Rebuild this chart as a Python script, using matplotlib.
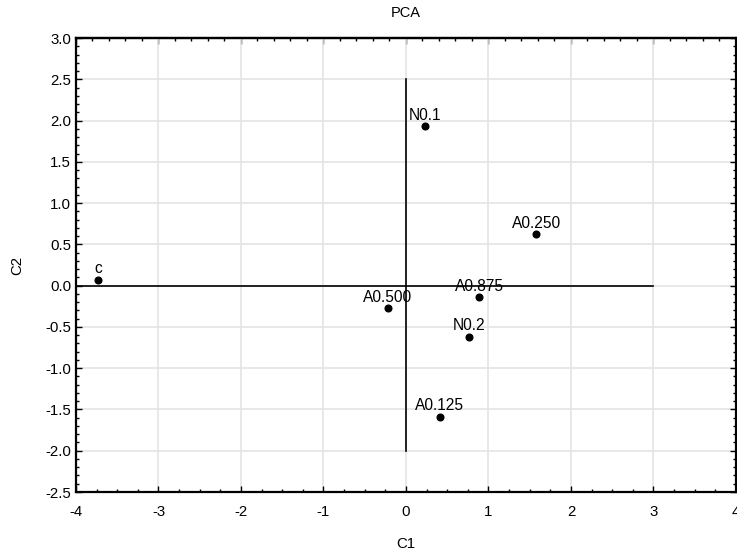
import matplotlib
matplotlib.use('Agg')
import matplotlib.pyplot as plt
from matplotlib.ticker import MultipleLocator, NullFormatter

plt.rcParams['font.family'] = ['Liberation Sans', 'DejaVu Sans']
plt.rcParams['axes.unicode_minus'] = False

labels = ['c', 'N0.1', 'A0.250', 'A0.875', 'A0.500', 'N0.2', 'A0.125']
c1 = [-3.73, 0.235, 1.58, 0.885, -0.22, 0.77, 0.41]
c2 = [0.07, 1.93, 0.625, -0.14, -0.275, -0.62, -1.59]

# reference axes drawn across the plot
hline_x = [-4, 3]
vline_y = [-2, 2.5]

fig = plt.figure(figsize=(7.37, 5.55), dpi=100)
ax = fig.add_axes([0.1031, 0.1135, 0.8955, 0.818])

ax.plot(hline_x, [0, 0], color='black', lw=1.2, zorder=2)
ax.plot([0, 0], vline_y, color='black', lw=1.2, zorder=2)

ax.plot(c1, c2, 'o', color='black', markersize=4.8, zorder=3)
for lab, x, y in zip(labels, c1, c2):
    ax.annotate(lab, (x, y), xytext=(0, 2.5), textcoords='offset points',
                ha='center', va='bottom', fontsize=11.2)

ax.set_xlim(-4, 4)
ax.set_ylim(-2.5, 3.0)
ax.xaxis.set_major_locator(MultipleLocator(1))
ax.xaxis.set_minor_locator(MultipleLocator(0.25))
ax.yaxis.set_major_locator(MultipleLocator(0.5))
ax.yaxis.set_minor_locator(MultipleLocator(0.1))
ax.set_yticklabels([f'{v:.1f}' for v in ax.get_yticks()])

ax.grid(True, which='major', color='#e4e4e4', lw=1.2, zorder=0)
ax.set_axisbelow(True)
ax.tick_params(which='both', direction='in', right=True,
               labelsize=10.8, colors='black')
ax.tick_params(axis='x', which='major', pad=9)
ax.tick_params(which='major', length=4, width=1)
ax.tick_params(which='minor', length=2, width=1)
for s in ax.spines.values():
    s.set_linewidth(1.6)

# top edge has its own minor spacing
top = ax.secondary_xaxis('top')
top.xaxis.set_major_locator(MultipleLocator(1))
top.xaxis.set_minor_locator(MultipleLocator(0.2))
top.xaxis.set_major_formatter(NullFormatter())
top.tick_params(which='both', direction='in')
top.tick_params(which='major', length=4, width=1)
top.tick_params(which='minor', length=2, width=1)
top.spines['top'].set_linewidth(1.6)

ax.set_title('PCA', fontsize=10.5, pad=15)
ax.set_xlabel('C1', fontsize=10.8, labelpad=13)
ax.set_ylabel('C2', fontsize=10.8, labelpad=15)

fig.savefig('out.png', dpi=100)
